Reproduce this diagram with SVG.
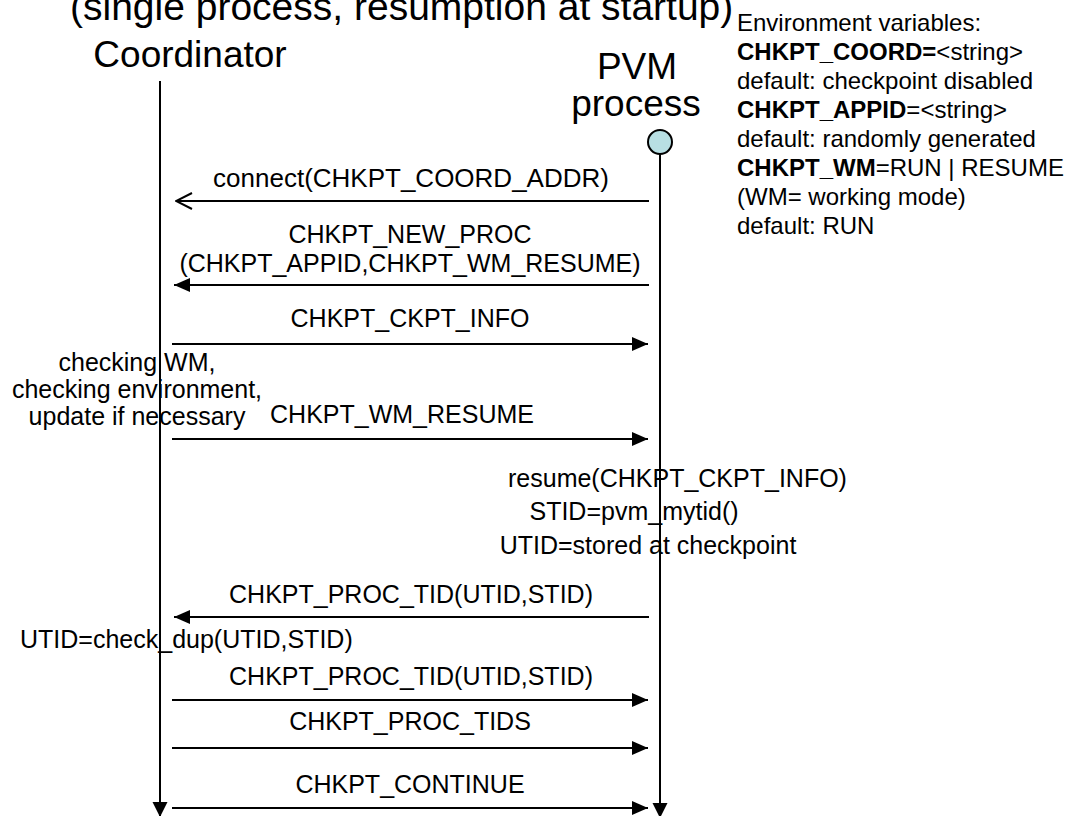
<svg xmlns="http://www.w3.org/2000/svg" width="1088" height="816" viewBox="0 0 1088 816">
  <style>
    text { font-family: "Liberation Sans", Arial, sans-serif; fill: #000; }
    .title { font-size: 39px; }
    .big { font-size: 37px; }
    .lbl { font-size: 25px; }
    .env { font-size: 24px; }
    .b { font-weight: bold; }
    .mid { text-anchor: middle; }
    .life { stroke: #000; stroke-width: 2; fill: none; }
    .msg { stroke: #000; stroke-width: 2; fill: none; }
  </style>
  <defs>
    <marker id="head" markerUnits="userSpaceOnUse" markerWidth="16" markerHeight="14" refX="16" refY="7" orient="auto">
      <path d="M0,0 L16,7 L0,14 z" fill="#000"/>
    </marker>
    <marker id="open" markerUnits="userSpaceOnUse" markerWidth="18" markerHeight="18" refX="17" refY="9" orient="auto">
      <path d="M1,1 L17,9 L1,17" fill="none" stroke="#000" stroke-width="2"/>
    </marker>
    <marker id="lifeEnd" markerUnits="userSpaceOnUse" markerWidth="16" markerHeight="16" refX="15" refY="7.5" orient="auto">
      <path d="M0,0 L15,7.5 L0,15 z" fill="#000"/>
    </marker>
  </defs>

  <rect width="1088" height="816" fill="#fff"/>

  <!-- title, partly above the top edge -->
  <text class="title" x="70" y="20">(single process, resumption at startup)</text>

  <!-- Coordinator lifeline -->
  <g id="coordinator">
    <text class="big mid" x="190" y="67">Coordinator</text>
    <line class="life" x1="160" y1="81" x2="160" y2="817" marker-end="url(#lifeEnd)"/>
  </g>

  <!-- PVM process lifeline -->
  <g id="pvm-process">
    <text class="big mid" x="637" y="79">PVM</text>
    <text class="big mid" x="636" y="116">process</text>
    <line class="life" x1="660" y1="154" x2="660" y2="818" marker-end="url(#lifeEnd)"/>
    <circle cx="660" cy="142" r="12" fill="#b8dfe3" stroke="#000" stroke-width="2"/>
  </g>

  <!-- environment variable legend -->
  <g id="env-vars">
    <text class="env" x="737" y="31">Environment variables:</text>
    <text class="env" x="737" y="60"><tspan class="b">CHKPT_COORD=</tspan>&lt;string&gt;</text>
    <text class="env" x="737" y="89">default: checkpoint disabled</text>
    <text class="env" x="737" y="118"><tspan class="b">CHKPT_APPID</tspan>=&lt;string&gt;</text>
    <text class="env" x="737" y="147">default: randomly generated</text>
    <text class="env" x="737" y="176"><tspan class="b">CHKPT_WM</tspan>=RUN | RESUME</text>
    <text class="env" x="737" y="205">(WM= working mode)</text>
    <text class="env" x="737" y="234">default: RUN</text>
  </g>

  <!-- local actions -->
  <g id="coord-check">
    <text class="lbl mid" x="137" y="371">checking WM,</text>
    <text class="lbl mid" x="137" y="398">checking environment,</text>
    <text class="lbl mid" x="137" y="425">update if necessary</text>
  </g>
  <g id="pvm-resume">
    <text class="lbl" x="508" y="487">resume(CHKPT_CKPT_INFO)</text>
    <text class="lbl mid" x="634" y="520">STID=pvm_mytid()</text>
    <text class="lbl mid" x="648" y="554">UTID=stored at checkpoint</text>
  </g>
  <g id="coord-dup">
    <text class="lbl" x="20" y="648">UTID=check_dup(UTID,STID)</text>
  </g>

  <!-- messages -->
  <g id="messages">
    <text class="lbl mid" x="411" y="187" style="font-size:26px">connect(CHKPT_COORD_ADDR)</text>
    <line class="msg" x1="649" y1="201" x2="176" y2="201" marker-end="url(#open)"/>

    <text class="lbl mid" x="410" y="243">CHKPT_NEW_PROC</text>
    <text class="lbl mid" x="410" y="272">(CHKPT_APPID,CHKPT_WM_RESUME)</text>
    <line class="msg" x1="649" y1="285" x2="174" y2="285" marker-end="url(#head)"/>

    <text class="lbl mid" x="410" y="327">CHKPT_CKPT_INFO</text>
    <line class="msg" x1="172" y1="344" x2="648" y2="344" marker-end="url(#head)"/>

    <text class="lbl mid" x="402" y="423">CHKPT_WM_RESUME</text>
    <line class="msg" x1="172" y1="439" x2="648" y2="439" marker-end="url(#head)"/>

    <text class="lbl mid" x="411" y="603">CHKPT_PROC_TID(UTID,STID)</text>
    <line class="msg" x1="649" y1="617" x2="174" y2="617" marker-end="url(#head)"/>

    <text class="lbl mid" x="411" y="685">CHKPT_PROC_TID(UTID,STID)</text>
    <line class="msg" x1="172" y1="700" x2="648" y2="700" marker-end="url(#head)"/>

    <text class="lbl mid" x="410" y="730">CHKPT_PROC_TIDS</text>
    <line class="msg" x1="172" y1="748" x2="648" y2="748" marker-end="url(#head)"/>

    <text class="lbl mid" x="410" y="793">CHKPT_CONTINUE</text>
    <line class="msg" x1="172" y1="808" x2="648" y2="808" marker-end="url(#head)"/>
  </g>
</svg>
